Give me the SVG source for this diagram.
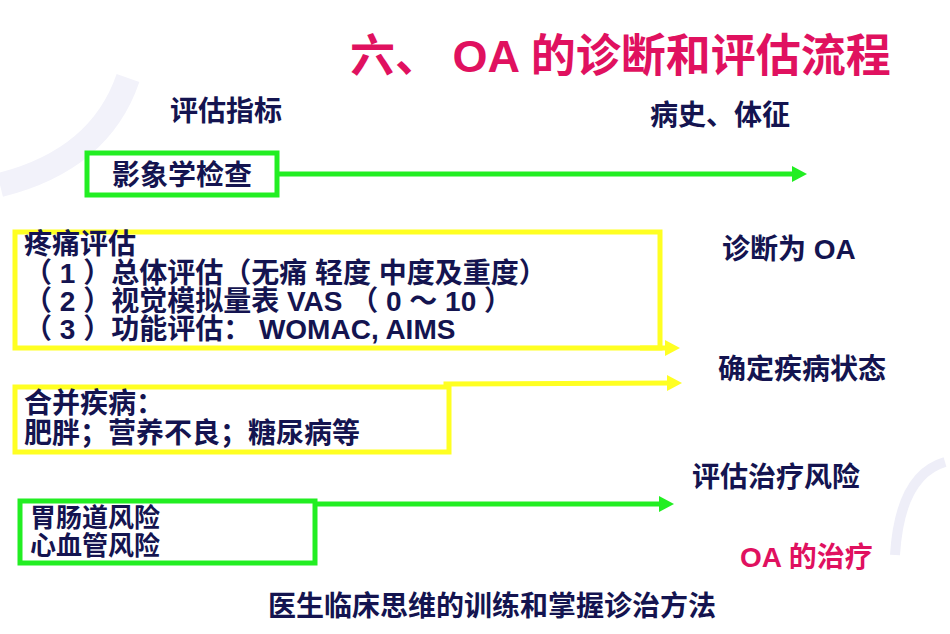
<svg xmlns="http://www.w3.org/2000/svg" width="950" height="634" viewBox="0 0 950 634">
<defs>
<style>
.t{font-family:"Liberation Sans","Noto Sans CJK SC",sans-serif;font-weight:bold;fill:#141450;font-size:28px}
.r{fill:#e0115f}
.g{stroke:#22ee22;stroke-width:5;fill:none}
.y{stroke:#ffff22;stroke-width:5;fill:none}
</style>
<marker id="ag" markerWidth="4" markerHeight="4" refX="1" refY="2" orient="auto" markerUnits="strokeWidth"><path d="M0,0.4L3,2L0,3.6z" fill="#22ee22"/></marker>
<marker id="ay" markerWidth="4" markerHeight="4" refX="1" refY="2" orient="auto" markerUnits="strokeWidth"><path d="M0,0.4L3,2L0,3.6z" fill="#ffff22"/></marker>
</defs>
<rect width="950" height="634" fill="#fff"/>
<path d="M0,185 Q100,160 128,78" stroke="#f2f2fa" stroke-width="24" fill="none"/>
<path d="M945,462 Q900,475 895,555" stroke="#eeeef8" stroke-width="10" fill="none"/>
<text class="t r" x="350" y="72" style="font-size:45px">六、 OA 的诊断和评估流程</text>
<text class="t" x="170" y="121">评估指标</text>
<text class="t" x="650" y="125">病史、体征</text>
<text class="t" x="722" y="259">诊断为 OA</text>
<text class="t" x="718" y="379">确定疾病状态</text>
<text class="t" x="692" y="487">评估治疗风险</text>
<text class="t r" x="740" y="567">OA 的治疗</text>
<text class="t" x="268" y="616">医生临床思维的训练和掌握诊治方法</text>
<g id="n1"><rect class="g" x="87" y="153" width="190" height="42"/><text class="t" x="112" y="185">影象学检查</text></g>
<g id="n2"><rect class="y" x="15" y="232" width="645" height="116"/>
<text class="t" x="24" y="254">疼痛评估</text>
<text class="t" x="24" y="283">（ 1 ）总体评估（无痛  轻度  中度及重度）</text>
<text class="t" x="24" y="311">（ 2 ）视觉模拟量表 VAS （ 0 ～ 10 ）</text>
<text class="t" x="24" y="339">（ 3 ）功能评估： WOMAC, AIMS</text></g>
<g id="n3"><rect class="y" x="15" y="387" width="434" height="65"/>
<text class="t" x="24" y="413">合并疾病：</text>
<text class="t" x="24" y="443">肥胖；营养不良；糖尿病等</text></g>
<g id="n4"><rect class="g" x="20" y="501" width="295" height="62"/>
<text class="t" x="30" y="527" style="font-size:26px">胃肠道风险</text>
<text class="t" x="30" y="555" style="font-size:26px">心血管风险</text></g>
<g id="edges">
<line class="g" x1="277" y1="174" x2="797" y2="174" marker-end="url(#ag)"/>
<line class="y" x1="640" y1="348" x2="670" y2="348" marker-end="url(#ay)"/>
<polyline class="y" points="446,387 446,384 672,383" marker-end="url(#ay)"/>
<line class="g" x1="315" y1="504" x2="664" y2="504" marker-end="url(#ag)"/>
</g>
</svg>
